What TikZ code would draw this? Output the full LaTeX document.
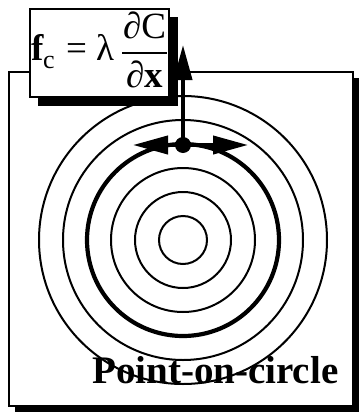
\documentclass[tikz,border=0pt]{standalone}
\usepackage{fontspec}
\setmainfont{Liberation Serif}
\usetikzlibrary{arrows.meta}
\begin{document}
\begin{tikzpicture}[x=1pt,y=1pt,
  ring/.style={line width=2pt},
  thickring/.style={line width=4.2pt},
  box/.style={draw, line width=2pt, fill=white},
  shadowfill/.style={fill=black},
  force/.style={line width=4pt, -{Triangle[length=35pt,width=18pt]}},
  txt/.style={anchor=base west, inner sep=0pt},
  big/.style={font=\fontsize{37}{37}\selectfont},
]
\useasboundingbox (0,0) rectangle (359,-413);
% main frame
\fill[shadowfill] (15,-78) rectangle (359,-412);
\draw[box] (9,-72) rectangle (353,-406);
% rings
\foreach \r in {24,48,72,120,144} \draw[ring] (183,-240) circle[radius=\r pt];
\draw[thickring] (183,-240) circle[radius=96pt];
% label
\node[txt, font=\fontsize{39}{39}\selectfont\bfseries] (label) at (92,-383) {Point-on-circle};
% formula box
\fill[shadowfill] (38,-17) rectangle (178,-106);
\draw[box] (30,-9) rectangle (169,-97);
\node[txt, big, font=\fontsize{37}{37}\selectfont\bfseries] (f) at (31,-60) {f};
\node[txt, font=\fontsize{26}{26}\selectfont] (c) at (43,-68) {c};
\node[txt, big] (eq) at (66,-60) {=};
\node[txt, big] (lam) at (96,-60) {λ};
\node[anchor=base, inner sep=0pt, big] (num) at (144.5,-38) {∂C};
\node[anchor=base, inner sep=0pt, big] (den) at (144.5,-87) {∂\textbf{x}};
\coordinate (barL) at (122,-53);
\coordinate (barR) at (167,-53);
\draw[line width=1.5pt] (barL) -- (barR);
% point and forces
\node[circle, fill, inner sep=0pt, minimum size=16pt] (pt) at (183,-145) {};
\coordinate (up) at (183,-45);
\coordinate (lefttip) at (133,-145);
\coordinate (righttip) at (248,-145);
\draw[force] (pt.center) -- (up);
\draw[force] (pt.center) -- (lefttip);
\draw[force] (pt.center) -- (righttip);
\end{tikzpicture}
\end{document}
